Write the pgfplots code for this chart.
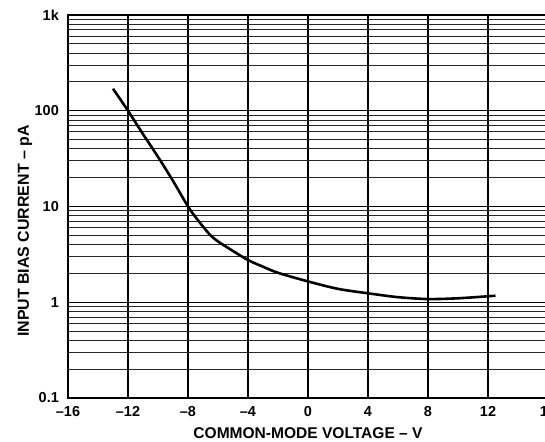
\documentclass[border=0pt]{standalone}
\usepackage{fontspec}
\setmainfont{Liberation Sans}
\usepackage{pgfplots}
\pgfplotsset{compat=1.18}
\begin{document}
\begin{tikzpicture}[x=1bp,y=1bp]
\begin{axis}[
  at={(68bp,44bp)}, anchor=south west,
  scale only axis, width=480bp, height=383bp,
  xmin=-16, xmax=16, ymin=0.1, ymax=1000,
  ymode=log,
  xtick={-16,-12,-8,-4,0,4,8,12,16},
  xticklabels={–16,–12,–8,–4,0,4,8,12,16},
  ytick={0.1,1,10,100,1000},
  yticklabels={0.1,1,10,100,1k},
  minor ytick={0.2,0.3,0.4,0.5,0.6,0.7,0.8,0.9,2,3,4,5,6,7,8,9,20,30,40,50,60,70,80,90,200,300,400,500,600,700,800,900},
  grid=both,
  major grid style={black, line width=1.3bp},
  minor grid style={black!85, line width=1bp},
  major tick length=0pt, minor tick length=0pt,
  axis line style={black, line width=1.8bp},
  tick label style={font=\bfseries\fontsize{14.5}{16}\selectfont},
  xticklabel style={anchor=north, inner sep=1.5bp, yshift=-6.5bp},
  yticklabel style={anchor=east, inner sep=0pt, xshift=-9bp},
  xlabel={COMMON-MODE VOLTAGE – V},
  ylabel={INPUT BIAS CURRENT – pA},
  xlabel style={font=\bfseries\fontsize{15.6}{18}\selectfont, at={(axis description cs:0.5,0)}, anchor=center, yshift=-35bp},
  ylabel style={font=\bfseries\fontsize{16}{18}\selectfont, at={(axis description cs:-0.0896,0.436)}, anchor=center},
  clip=false,
]
\addplot[black, line width=2.6bp, smooth, tension=0.5] coordinates {
(-13,170) (-12,100) (-11,57) (-10,33) (-9,18.5) (-8,10) (-7.5,7.76) (-7,6.17)
(-6.5,5.0) (-6,4.32) (-5,3.43) (-4,2.76) (-3,2.35)
(-2,2.03) (0,1.65) (2,1.38) (4,1.24) (6,1.13) (8,1.08) (10,1.1) (12.5,1.17)
};
\end{axis}
\pgfresetboundingbox
\useasboundingbox (0,0) rectangle (545bp,442bp);
\end{tikzpicture}
\end{document}
